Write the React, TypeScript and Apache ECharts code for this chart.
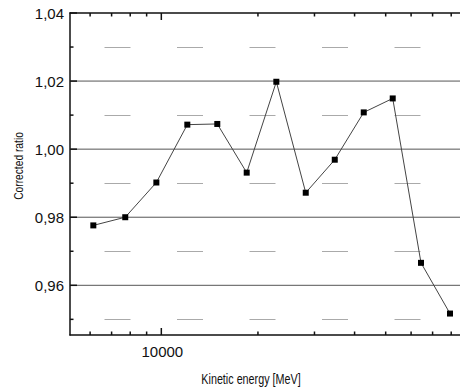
import React, { useEffect, useRef } from "react";
import * as echarts from "echarts";

const energy = [6140, 7720, 9650, 12050, 14940, 18450, 22820, 28180, 34700, 42720, 52590, 64420, 79320];
const ratio = [0.9776, 0.98, 0.9902, 1.0072, 1.0074, 0.9931, 1.0198, 0.9872, 0.9969, 1.0108, 1.0149, 0.9666, 0.9517];

const yMajor = [0.96, 0.98, 1.0, 1.02, 1.04];
const yMajorLabels = ["0,96", "0,98", "1,00", "1,02", "1,04"];
const yMinor = [0.95, 0.97, 0.99, 1.01, 1.03];
const xMajor = [10000];
const xMajorLabels = ["10000"];
const xMinor = [6000, 7000, 8000, 9000, 20000, 30000, 40000, 50000, 60000, 70000, 80000];

const X_MIN = 5194;
const X_MAX = 85210;
const Y_MIN = 0.9454;
const Y_MAX = 1.04;

const AXIS_COLOR = "#111";
const LABEL_FONT = "'Liberation Sans', Arial, sans-serif";

export default function App() {
  const ref = useRef<HTMLDivElement>(null);
  useEffect(() => {
    if (!ref.current) return;
    const chart = echarts.init(ref.current, null, { renderer: "svg" });
    const axisBase = {
      type: "log" as const,
      logBase: 10,
      min: X_MIN,
      max: X_MAX,
      axisLine: { show: true, onZero: false, lineStyle: { color: AXIS_COLOR, width: 1.5 } },
      axisTick: { show: false },
      axisLabel: { show: false },
      splitLine: { show: false },
      minorTick: { show: false },
    };
    const option: any = {
      animation: false,
      backgroundColor: "#fff",
      grid: { left: 70, right: 0, top: 13, bottom: 57, containLabel: false },
      xAxis: [
        { ...axisBase, position: "bottom" },
        { ...axisBase, position: "top" },
      ],
      yAxis: {
        type: "value",
        min: Y_MIN,
        max: Y_MAX,
        axisLine: { show: true, onZero: false, lineStyle: { color: AXIS_COLOR, width: 1.5 } },
        axisTick: { show: false },
        axisLabel: { show: false },
        splitLine: { show: false },
      },
      graphic: [
        {
          type: "text",
          x: 18,
          y: 166,
          rotation: Math.PI / 2,
          scaleX: 0.76,
          style: {
            text: "Corrected ratio",
            fill: "#111",
            fontSize: 13.5,
            fontFamily: LABEL_FONT,
            align: "center",
            verticalAlign: "middle",
          },
        },
        {
          type: "text",
          x: 251,
          y: 380,
          scaleX: 0.77,
          style: {
            text: "Kinetic energy [MeV]",
            fill: "#111",
            fontSize: 14,
            fontFamily: LABEL_FONT,
            align: "center",
            verticalAlign: "middle",
          },
        },
      ],
      series: [
        {
          type: "custom",
          z: 1,
          silent: true,
          data: yMajor.slice(0, 4).map((v) => [X_MIN, v]),
          renderItem: (params: any, api: any) => {
            const v = api.value(1);
            const a = api.coord([X_MIN, v]);
            const b = api.coord([X_MAX, v]);
            return {
              type: "line",
              shape: { x1: a[0], y1: a[1], x2: b[0], y2: b[1] },
              style: { stroke: "#555", lineWidth: 1 },
            };
          },
        },
        {
          type: "custom",
          z: 1,
          silent: true,
          data: yMinor.map((v) => [X_MIN, v]),
          renderItem: (params: any, api: any) => {
            const v = api.value(1);
            const a = api.coord([X_MIN, v]);
            const b = api.coord([X_MAX, v]);
            const y = Math.round(a[1]) + 0.5;
            return {
              type: "line",
              shape: { x1: a[0], y1: y, x2: b[0], y2: y },
              style: { stroke: "#aaa", lineWidth: 1, lineDash: [26, 46.5], lineDashOffset: 37.5 },
            };
          },
        },
        {
          type: "custom",
          z: 3,
          silent: true,
          data: [...yMajor.map((v) => [X_MIN, v, 1]), ...yMinor.map((v) => [X_MIN, v, 0])],
          renderItem: (params: any, api: any) => {
            const v = api.value(1);
            const major = api.value(2) === 1;
            const p = api.coord([X_MIN, v]);
            const children: any[] = [
              {
                type: "line",
                shape: { x1: p[0], y1: p[1], x2: p[0] + (major ? 7 : 3.5), y2: p[1] },
                style: { stroke: AXIS_COLOR, lineWidth: 1.5 },
              },
            ];
            if (major) {
              children.push({
                type: "text",
                x: p[0] - 6,
                y: p[1],
                style: {
                  text: yMajorLabels[params.dataIndex],
                  fill: "#111",
                  fontSize: 15,
                  fontFamily: LABEL_FONT,
                  align: "right",
                  verticalAlign: "middle",
                },
              });
            }
            return { type: "group", children };
          },
        },
        {
          type: "custom",
          z: 3,
          silent: true,
          data: [...xMajor.map((v) => [v, Y_MIN, 1]), ...xMinor.map((v) => [v, Y_MIN, 0])],
          renderItem: (params: any, api: any) => {
            const v = api.value(0);
            const major = api.value(2) === 1;
            const len = major ? 7 : 3.5;
            const pb = api.coord([v, Y_MIN]);
            const pt = api.coord([v, Y_MAX]);
            const children: any[] = [
              {
                type: "line",
                shape: { x1: pb[0], y1: pb[1], x2: pb[0], y2: pb[1] - len },
                style: { stroke: AXIS_COLOR, lineWidth: 1.5 },
              },
              {
                type: "line",
                shape: { x1: pt[0], y1: pt[1], x2: pt[0], y2: pt[1] + len },
                style: { stroke: AXIS_COLOR, lineWidth: 1.5 },
              },
            ];
            if (major) {
              children.push({
                type: "text",
                x: pb[0] + 1,
                y: pb[1] + 16,
                style: {
                  text: xMajorLabels[params.dataIndex],
                  fill: "#111",
                  fontSize: 15,
                  fontFamily: LABEL_FONT,
                  align: "center",
                  verticalAlign: "middle",
                },
              });
            }
            return { type: "group", children };
          },
        },
        {
          type: "line",
          z: 5,
          data: energy.map((e, i) => [e, ratio[i]]),
          symbol: "rect",
          symbolSize: 6,
          showSymbol: true,
          itemStyle: { color: "#000" },
          lineStyle: { color: "#444", width: 1 },
        },
      ],
    };
    chart.setOption(option);
    return () => chart.dispose();
  }, []);
  return (
    <div
      ref={ref}
      style={{ position: "absolute", left: 0, top: 0, width: 460, height: 392, background: "#fff" }}
    />
  );
}
